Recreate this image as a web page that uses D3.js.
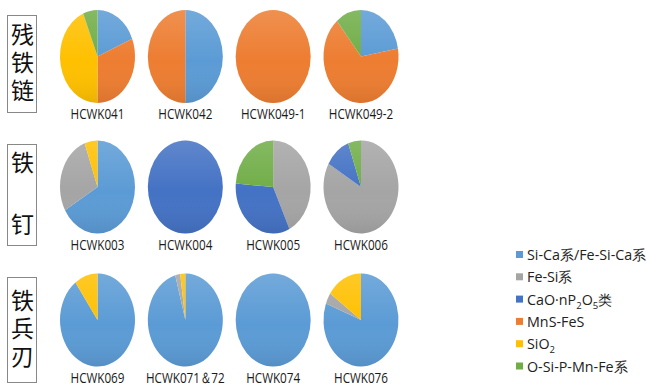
<!DOCTYPE html>
<html>
<head>
<meta charset="utf-8">
<script src="https://cdn.jsdelivr.net/npm/d3@7"></script>
<style>
  body { margin: 0; background: #fff; }
  svg { display: block; }
</style>
</head>
<body>
<svg id="chart" width="650" height="386"></svg>
<script>
// inclusion types (legend order = slice order)
const types = ["Si-Ca系/Fe-Si-Ca系", "Fe-Si系", "CaO·nP2O5类", "MnS-FeS", "SiO2", "O-Si-P-Mn-Fe系"]
const colors = ["#5b9bd5", "#a5a5a5", "#4472c4", "#ed7d31", "#ffc000", "#70ad47"]

// group labels (one per row)
const groups = ["残铁链", "铁钉", "铁兵刃"]

// sample names per row
const samples = [
    ["HCWK041", "HCWK042", "HCWK049-1", "HCWK049-2"],
    ["HCWK003", "HCWK004", "HCWK005", "HCWK006"],
    ["HCWK069", "HCWK071＆72", "HCWK074", "HCWK076"]
]

// counts of each inclusion type, same order as types
const values = [
    [[3, 0, 0, 5, 7, 1], [1, 0, 0, 1, 0, 0], [0, 0, 0, 1, 0, 0], [2, 0, 0, 6, 0, 1]],
    [[12, 5, 0, 0, 1, 0], [0, 0, 1, 0, 0, 0], [0, 9, 7, 0, 0, 5], [0, 15, 2, 0, 0, 1]],
    [[9, 0, 0, 0, 1, 0], [44, 1, 0, 0, 1, 0], [1, 0, 0, 0, 0, 0], [21, 1, 0, 0, 4, 0]]
]

var svg = d3.select("#chart")
var font = "'Open Sans', sans-serif"

var defs = svg.append("defs")
var grad = defs.append("linearGradient")
    .attr("id", "shade")
    .attr("x1", 0).attr("y1", 0).attr("x2", 0).attr("y2", 1)
grad.append("stop").attr("offset", "0%").attr("stop-color", "#fff").attr("stop-opacity", 0.15)
grad.append("stop").attr("offset", "55%").attr("stop-color", "#fff").attr("stop-opacity", 0)
grad.append("stop").attr("offset", "100%").attr("stop-color", "#000").attr("stop-opacity", 0.08)

var x = d3.scalePoint().domain(d3.range(4)).range([97.5, 361])
var rowY = [56.5, 187, 320]
var rx = 37.5, ry = 46.5

var pie = d3.pie().sort(null).value(function (d) {return d;})
var arc = d3.arc().innerRadius(0).outerRadius(1)

samples.forEach(function (row, r) {
    row.forEach(function (name, i) {
        var g = svg.append("g")
            .attr("transform", "translate(" + x(i) + "," + rowY[r] + ")")
        var p = g.append("g").attr("transform", "scale(" + rx + "," + ry + ")")
        p.selectAll("path")
            .data(pie(values[r][i]).filter(function (d) {return d.value > 0;}))
            .enter().append("path")
            .attr("d", arc)
            .attr("fill", function (d) {return colors[d.index];})
        p.append("ellipse")
            .attr("rx", 1).attr("ry", 1)
            .attr("fill", "url(#shade)")
        // narrow, Calibri-like label: squeeze Open Sans horizontally
        g.append("text")
            .attr("transform", "translate(0," + (ry + 16) + ") scale(0.78,1)")
            .attr("text-anchor", "middle")
            .attr("font-family", font)
            .attr("font-size", 15)
            .attr("fill", "#1a1a1a")
            .text(name)
    })
})

// boxed group labels on the left (one text per box, a tspan per character)
var boxes = [[15, 112], [144, 245], [277, 382]]
groups.forEach(function (name, r) {
    var b = boxes[r]
    svg.append("rect")
        .attr("x", 7.5).attr("y", b[0] + 0.5)
        .attr("width", 29).attr("height", b[1] - b[0])
        .attr("fill", "none")
        .attr("stroke", "#888")
        .attr("stroke-width", 1)
    var chars = name.split("")
    var mid = (b[0] + b[1]) / 2 - 1
    var step = chars.length == 2 ? 62 : 28
    var first = mid - (chars.length - 1) / 2 * step
    var txt = svg.append("text")
        .attr("text-anchor", "middle")
        .attr("font-family", "Noto Sans CJK SC")
        .attr("font-size", 23)
        .attr("fill", "#111")
    chars.forEach(function (c, k) {
        txt.append("tspan")
            .attr("x", 22.5)
            .attr("y", first + k * step + 8.5)
            .text(c)
    })
})

// legend
var legend = svg.append("g").attr("transform", "translate(516,255)")
types.forEach(function (t, k) {
    var item = legend.append("g").attr("transform", "translate(0," + (k * 22.3) + ")")
    item.append("rect")
        .attr("x", 0).attr("y", -4)
        .attr("width", 7).attr("height", 7)
        .attr("fill", colors[k])
    var txt = item.append("text")
        .attr("x", 11).attr("y", 5)
        .attr("font-family", font)
        .attr("font-size", 14.3)
        .attr("fill", "#222")
    // digits become subscripts
    var parts = t.split(/(\d)/).filter(function (s) {return s !== "";})
    var shifted = 0
    parts.forEach(function (s) {
        if (/\d/.test(s)) {
            txt.append("tspan").attr("font-size", 9.5).attr("dy", 4 - shifted).text(s)
            shifted = 4
        } else {
            txt.append("tspan").attr("dy", -shifted).text(s)
            shifted = 0
        }
    })
})
</script>
</body>
</html>
